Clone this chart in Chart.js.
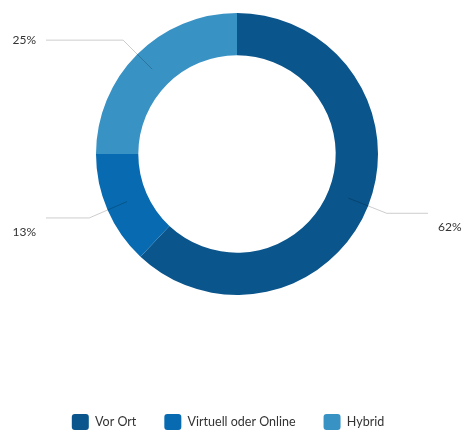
<!DOCTYPE html>
<html lang="de">
<head>
<meta charset="utf-8">
<title>Veranstaltungsformat</title>
<script src="https://cdn.jsdelivr.net/npm/chart.js@4/dist/chart.umd.min.js"></script>
<style>
  html, body { margin: 0; padding: 0; background: #ffffff; }
  #wrap { width: 464px; height: 432px; position: relative; }
</style>
</head>
<body>
<div id="wrap"><canvas id="chart"></canvas></div>
<script>
// Anteil der Formate in Prozent
const categories = ['Vor Ort', 'Virtuell oder Online', 'Hybrid'];
const shares = [62, 13, 25];
const sliceColors = ['#0a558c', '#086ab0', '#3992c4'];

const FONT = 'Lato, "Noto Sans", sans-serif';
const TEXT_COLOR = '#333333';

// Außenbeschriftung mit Führungslinie für jedes Segment
const outsideLabels = {
  id: 'outsideLabels',
  afterDatasetsDraw(chart) {
    const ctx = chart.ctx;
    const meta = chart.getDatasetMeta(0);
    const values = chart.data.datasets[0].data;
    ctx.save();
    ctx.font = '12px ' + FONT;
    ctx.fillStyle = TEXT_COLOR;
    ctx.strokeStyle = 'rgba(0,0,0,0.2)';
    ctx.lineWidth = 1;
    meta.data.forEach((arc, i) => {
      const { x, y, startAngle, endAngle, innerRadius, outerRadius } =
        arc.getProps(['x', 'y', 'startAngle', 'endAngle', 'innerRadius', 'outerRadius'], true);
      const mid = (startAngle + endAngle) / 2;
      const cos = Math.cos(mid), sin = Math.sin(mid);
      const rMid = (innerRadius + outerRadius) / 2;
      const rElbow = outerRadius + 20;
      const p1 = { x: x + cos * rMid, y: y + sin * rMid };
      const p2 = { x: x + cos * rElbow, y: y + sin * rElbow };
      const right = cos >= 0;
      const endX = right ? x + outerRadius + 50 : x - outerRadius - 50;
      ctx.beginPath();
      ctx.moveTo(p1.x, p1.y);
      ctx.lineTo(p2.x, p2.y);
      ctx.lineTo(endX, p2.y);
      ctx.stroke();
      ctx.textAlign = right ? 'left' : 'right';
      ctx.textBaseline = 'middle';
      const ty = p2.y + (sin > 0.05 ? 14 : 0);
      ctx.fillText(values[i] + '%', right ? endX + 10 : endX - 10, ty);
    });
    ctx.restore();
  }
};

new Chart(document.getElementById('chart'), {
  type: 'doughnut',
  data: {
    labels: categories,
    datasets: [{
      data: shares,
      backgroundColor: sliceColors,
      borderWidth: 0,
      hoverOffset: 0
    }]
  },
  options: {
    responsive: true,
    maintainAspectRatio: false,
    animation: false,
    cutout: '70%',
    layout: { padding: { top: 13, left: 0, right: 8, bottom: -8 } },
    plugins: {
      tooltip: { enabled: false },
      // leere Abstandshalter zwischen Diagramm und Legende bzw. am linken Rand
      title: {
        display: true,
        text: ' ',
        position: 'bottom',
        weight: 0,
        font: { size: 10, lineHeight: 1 },
        padding: { top: 0, bottom: 81 }
      },
      subtitle: {
        display: true,
        text: ' ',
        position: 'left',
        fullSize: false,
        font: { size: 18, lineHeight: 1 },
        padding: 0
      },
      legend: {
        position: 'bottom',
        labels: {
          boxWidth: 17,
          boxHeight: 16,
          padding: 28,
          useBorderRadius: true,
          borderRadius: 3,
          color: TEXT_COLOR,
          font: { family: FONT, size: 12.5 }
        }
      }
    }
  },
  plugins: [outsideLabels]
});
</script>
</body>
</html>
